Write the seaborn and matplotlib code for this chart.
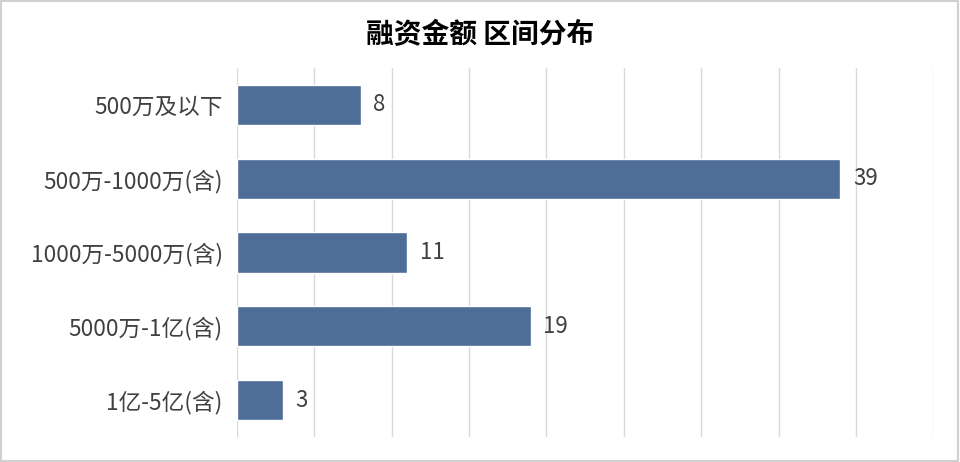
import matplotlib.pyplot as plt
import seaborn as sns
import pandas as pd
from matplotlib.patches import Rectangle

# Data
categories = ['500万及以下', '500万-1000万(含)', '1000万-5000万(含)', '5000万-1亿(含)', '1亿-5亿(含)']
counts = [8, 39, 11, 19, 3]
title = '融资金额 区间分布'

df = pd.DataFrame({'区间': categories, '数量': counts})

sns.set_style("white")
plt.rcParams['font.family'] = ['Noto Sans CJK SC', 'DejaVu Sans']

fig = plt.figure(figsize=(9.6, 4.62), dpi=100)
ax = fig.add_axes([0.2466, 0.0541, 0.7256, 0.7987])

sns.barplot(data=df, y='区间', x='数量', orient='h', color='#4E6D97',
            saturation=1, width=0.545, ax=ax)

# value labels
for container in ax.containers:
    ax.bar_label(container, padding=9, fontsize=16, color='#404040')

ax.set_xlim(0, 45)
ax.set_ylim(4.5, -0.5)
ax.set_xticks(range(0, 46, 5))
ax.set_xticklabels([])
ax.tick_params(axis='x', length=0)
ax.tick_params(axis='y', length=0, labelsize=16.3, labelcolor='#404040', pad=10)
ax.xaxis.grid(True, color='#d9d9d9', linewidth=1)
ax.set_axisbelow(True)
ax.set_xlabel(None)
ax.set_ylabel(None)
for s in ax.spines.values():
    s.set_visible(False)

fig.text(0.5, 0.925, title, ha='center', va='center', fontsize=20,
         fontweight='bold', color='#000000')

# outer border
fig.patches.append(Rectangle((0.001, 0.002), 0.997, 0.995, transform=fig.transFigure,
                             fill=False, edgecolor='#d0d0d0', linewidth=1.5))

plt.savefig('out.png', dpi=100)
